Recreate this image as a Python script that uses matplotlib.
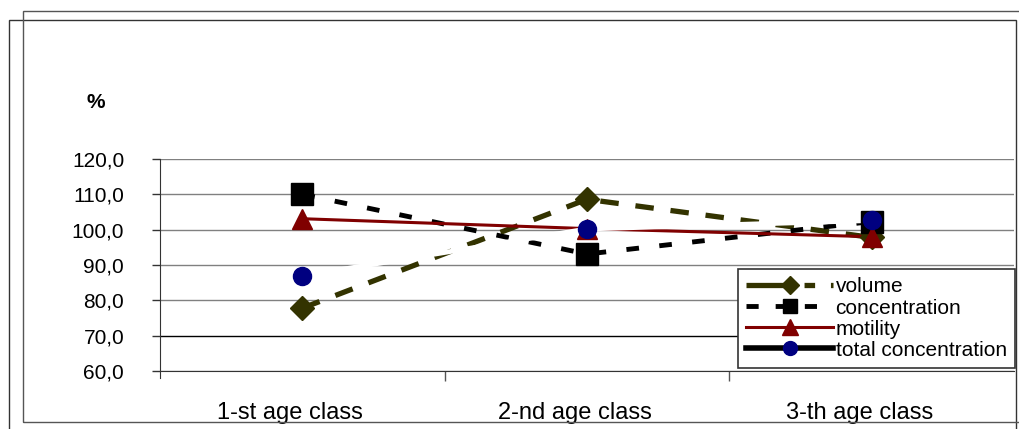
import matplotlib
matplotlib.use("Agg")
import matplotlib.pyplot as plt
from matplotlib.patches import Rectangle
from matplotlib.lines import Line2D
from matplotlib.transforms import ScaledTranslation

categories = ["1-st age class", "2-nd age class", "3-th age class"]
volume = [77.8, 108.6, 97.8]
concentration = [110.0, 93.1, 102.3]
motility = [103.1, 100.3, 98.0]
total_concentration = [86.9, 100.2, 102.6]
yticks = [60, 70, 80, 90, 100, 110, 120]
ytick_labels = ["60,0", "70,0", "80,0", "90,0", "100,0", "110,0", "120,0"]

plt.rcParams['font.family'] = ['Liberation Sans', 'DejaVu Sans']

W, H = 1019, 429
fig = plt.figure(figsize=(W / 100, H / 100), dpi=100)

# outer frames
fig.patches.append(Rectangle((9 / W, -0.05), (1016 - 9) / W, (429 - 20) / H + 0.05,
                             transform=fig.transFigure, fill=False, edgecolor="#333333", lw=1.0))
fig.patches.append(Rectangle((23 / W, (429 - 422) / H), 1.1, (422 - 11) / H,
                             transform=fig.transFigure, fill=False, edgecolor="#555555", lw=1.0))

ax = fig.add_axes([160 / W, (429 - 371) / H, (1014 - 160) / W, (371 - 159) / H])
x = list(range(len(categories)))

for v in yticks:
    ax.axhline(v, color="black" if v == 70 else "#808080", lw=1.0, zorder=1)

# lines
ax.plot(x, volume, color="#333300", lw=3.8, dashes=(3.5, 3.2), zorder=2)
ax.plot(x, concentration, color="black", lw=3.5, dashes=(2.6, 4.2), zorder=3)
ax.plot(x, motility, color="#800000", lw=2.2, zorder=4)
ax.plot(x, total_concentration, color="white", lw=3.5, zorder=5)

# markers
ax.plot(x, volume, ls="none", marker="D", ms=12, color="#333300", zorder=6)
ax.plot(x, concentration, ls="none", marker="s", ms=16, color="black", zorder=7)
ax.plot(x, motility, ls="none", marker="^", ms=15, color="#800000", zorder=8)
ax.plot(x, total_concentration, ls="none", marker="o", ms=13, color="#000080", zorder=9)

ax.set_xlim(-0.5, len(categories) - 0.5)
ax.set_ylim(60, 120)
ax.set_yticks(yticks)
ax.set_yticklabels(ytick_labels)
ax.set_xticks(x)
ax.set_xticklabels(categories)
ax.set_xticks([0.5, 1.5], minor=True)
ax.tick_params(axis="x", which="major", length=0, pad=22, labelsize=17)
ax.tick_params(axis="x", which="minor", length=7, width=1, color="#555555")
ax.tick_params(axis="y", length=5.8, width=1, color="#333333", pad=20, labelsize=15)
offset = ScaledTranslation(-12 / 100, 0, fig.dpi_scale_trans)
for lab in ax.get_xticklabels():
    lab.set_transform(lab.get_transform() + offset)
for s in ["top", "right"]:
    ax.spines[s].set_visible(False)
ax.spines["left"].set_color("#333333")
ax.spines["left"].set_bounds(58, 120)
ax.spines["bottom"].set_color("#333333")

fig.text(96 / W, (429 - 103) / H, "%", fontsize=15, fontweight="bold", ha="center", va="center")

handles = [
    Line2D([], [], color="#333300", lw=3.8, dashes=(8, 3, 2, 3), marker="D", ms=9),
    Line2D([], [], color="black", lw=3.5, dashes=(2.5, 3.5), marker="s", ms=10),
    Line2D([], [], color="#800000", lw=2.2, marker="^", ms=11),
    Line2D([], [], color="black", lw=4, marker="o", ms=10, markerfacecolor="#000080", markeredgecolor="#000080"),
]
labels = ["volume", "concentration", "motility", "total concentration"]
leg = ax.legend(handles, labels, loc="lower right",
                bbox_to_anchor=((1015 - 160) / (1014 - 160), (371 - 368) / (371 - 159)),
                fontsize=15, frameon=True, fancybox=False, framealpha=1, edgecolor="#333333",
                borderpad=0.4, labelspacing=0.1, handlelength=4.2, handletextpad=0.1, borderaxespad=0)
leg.get_frame().set_linewidth(1.2)
leg.set_zorder(20)

fig.savefig("out.png", dpi=100)
